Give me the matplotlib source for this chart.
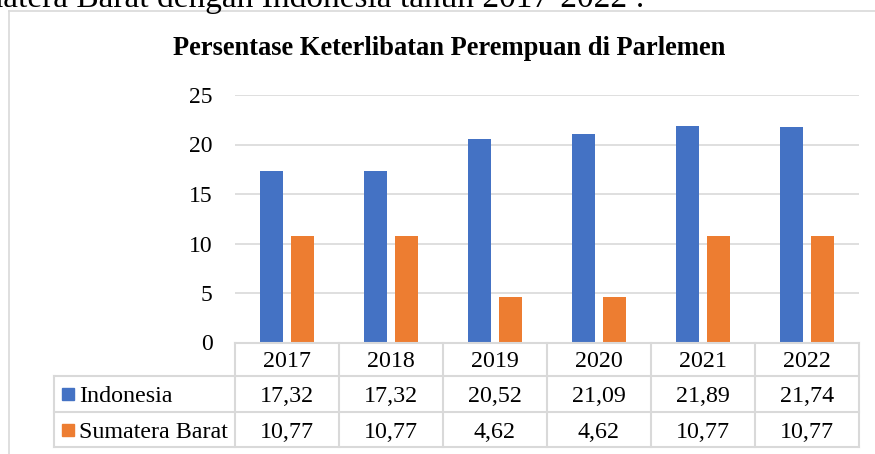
import matplotlib.pyplot as plt
from matplotlib.lines import Line2D
import numpy as np

# data
years = ['2017', '2018', '2019', '2020', '2021', '2022']
indonesia = [17.32, 17.32, 20.52, 21.09, 21.89, 21.74]
sumbar = [10.77, 10.77, 4.62, 4.62, 10.77, 10.77]
series_names = ['Indonesia', 'Sumatera Barat']
yticks = [0, 5, 10, 15, 20, 25]

BLUE = '#4472C4'
ORANGE = '#ED7D31'
GRID = '#d9d9d9'

W, H = 875, 454
plt.rcParams['font.family'] = ['Liberation Serif', 'DejaVu Serif']
fig = plt.figure(figsize=(W / 100, H / 100), dpi=100)


def fx(px):
    return px / W


def fy(py):
    return 1 - py / H


# text of the page above the chart (cut off at the top)
fig.text(fx(645), fy(7), 'Sumatera Barat dengan Indonesia tahun 2017-2022 :',
         ha='right', va='baseline', fontsize=24)

# chart frame
fig.add_artist(Line2D([fx(9), fx(9)], [fy(11), fy(454)], color=GRID, lw=1.2))
fig.add_artist(Line2D([fx(9), fx(875)], [fy(11), fy(11)], color=GRID, lw=1.2))

fig.text(fx(449), fy(55), 'Persentase Keterlibatan Perempuan di Parlemen',
         ha='center', va='baseline', fontsize=19.1, fontweight='bold')

# bars
ax = fig.add_axes([fx(235), fy(342.5), fx(859) - fx(235), fy(95) - fy(342.5)])
x = np.arange(len(years))
ax.bar(x - 0.147, indonesia, width=0.22, color=BLUE, zorder=3)
ax.bar(x + 0.147, sumbar, width=0.22, color=ORANGE, zorder=3)
ax.set_xlim(-0.5, 5.5)
ax.set_ylim(0, 25)
ax.set_yticks(yticks)
ax.set_xticks([])
ax.yaxis.grid(True, color=GRID, lw=1.2)
ax.set_axisbelow(True)
for s in ax.spines.values():
    s.set_visible(False)
ax.tick_params(axis='y', length=0, pad=16, labelsize=17)

# data table under the chart
tab = fig.add_axes([fx(54), fy(447), fx(859) - fx(54), fy(342.5) - fy(447)])
xl = -0.5 - 181 / 104
tab.set_xlim(xl, 5.5)
rows = [0, 33.5, 69.5, 104.5]
tab.set_ylim(rows[-1], 0)
tab.axis('off')

lk = dict(color=GRID, lw=1.5, clip_on=False, solid_capstyle='projecting')
tab.plot([-0.5, 5.5], [rows[0], rows[0]], **lk)
for r in rows[1:]:
    tab.plot([xl, 5.5], [r, r], **lk)
for i in range(len(years) + 1):
    tab.plot([i - 0.5, i - 0.5], [rows[0], rows[-1]], **lk)
tab.plot([xl, xl], [rows[1], rows[-1]], **lk)

def fmt(v):
    return f'{v:.2f}'.replace('.', ',')

for i, yr in enumerate(years):
    tab.text(i, (rows[0] + rows[1]) / 2, yr, ha='center', va='center_baseline', fontsize=17.25)
for r, (name, vals, col) in enumerate(zip(series_names, [indonesia, sumbar], [BLUE, ORANGE])):
    yc = (rows[r + 1] + rows[r + 2]) / 2
    tab.plot([xl + 0.13], [yc], marker='s', markersize=8, color=col, clip_on=False)
    tab.text(xl + 0.24, yc, name, ha='left', va='center_baseline', fontsize=17.25)
    for i, v in enumerate(vals):
        tab.text(i, yc, fmt(v), ha='center', va='center_baseline', fontsize=17.25)

fig.savefig('out.png', dpi=100)
